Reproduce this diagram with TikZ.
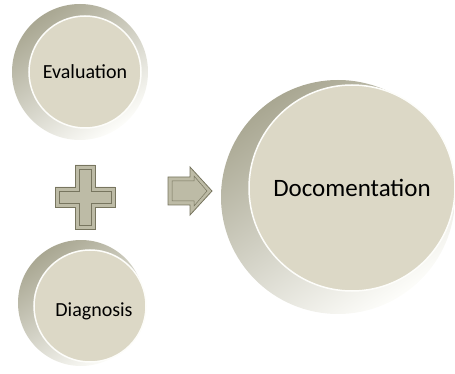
\documentclass[tikz,border=0pt]{standalone}
\usepackage{fontspec}
\setmainfont{Carlito}
\usepackage{tikz}
\usetikzlibrary{shapes,positioning}
\definecolor{facecol}{HTML}{DCD8C6}
\definecolor{rimdark}{HTML}{A9A792}
\definecolor{rimlight}{HTML}{FDFDFA}
\definecolor{signcol}{HTML}{BDBBA6}
\definecolor{signedge}{HTML}{77755F}
\tikzset{rim/.style={circle,inner sep=0,minimum size=#1,top color=rimdark,bottom color=rimlight,shading angle=35},
  face/.style={circle,inner sep=0,minimum size=#1,fill=facecol,draw=rimlight,line width=1.5pt},
  sign/.style={fill=signcol,draw=signedge,line width=0.8pt,line join=miter}}

\begin{document}
\begin{tikzpicture}[x=1pt,y=-1pt]
    \useasboundingbox (0,0) rectangle (455,374);
    % left circles
    \node[rim=136pt] (evalrim) at (80,72) {};
    \node[face=112pt,font=\fontsize{20}{22}\selectfont] (eval) at (85,72) {Evaluation};
    \node[rim=126pt] (diagrim) at (81,303) {};
    \node[face=112pt,font=\fontsize{20}{22}\selectfont] (diag) at (90,306) {};
    \node[font=\fontsize{20}{22}\selectfont] (diagtext) at (94,311) {Diagnosis};
    % big circle
    \node[rim=234pt] (docrim) at (338,197) {};
    \node[face=206pt,font=\fontsize{25}{28}\selectfont] (doc) at (352,188) {Docomentation};

    % plus sign
    \draw[sign] (75,165) -- (95,165) -- (95,187) -- (115,187) -- (115,207) -- (95,207)
      -- (95,229) -- (75,229) -- (75,207) -- (55,207) -- (55,187) -- (75,187) -- cycle;
    \draw[signedge,line width=0.5pt] (79,169) -- (91,169) -- (91,191) -- (111,191) -- (111,203) -- (91,203)
      -- (91,225) -- (79,225) -- (79,203) -- (59,203) -- (59,191) -- (79,191) -- cycle;
    % arrow
    \draw[sign] (168,177) -- (190,177) -- (190,167) -- (212,191) -- (190,215) -- (190,205) -- (168,205) -- cycle;
    \draw[signedge,line width=0.5pt] (172,181) -- (194,181) -- (194,176) -- (207,191) -- (194,206) -- (194,201) -- (172,201) -- cycle;
\end{tikzpicture}
\end{document}
